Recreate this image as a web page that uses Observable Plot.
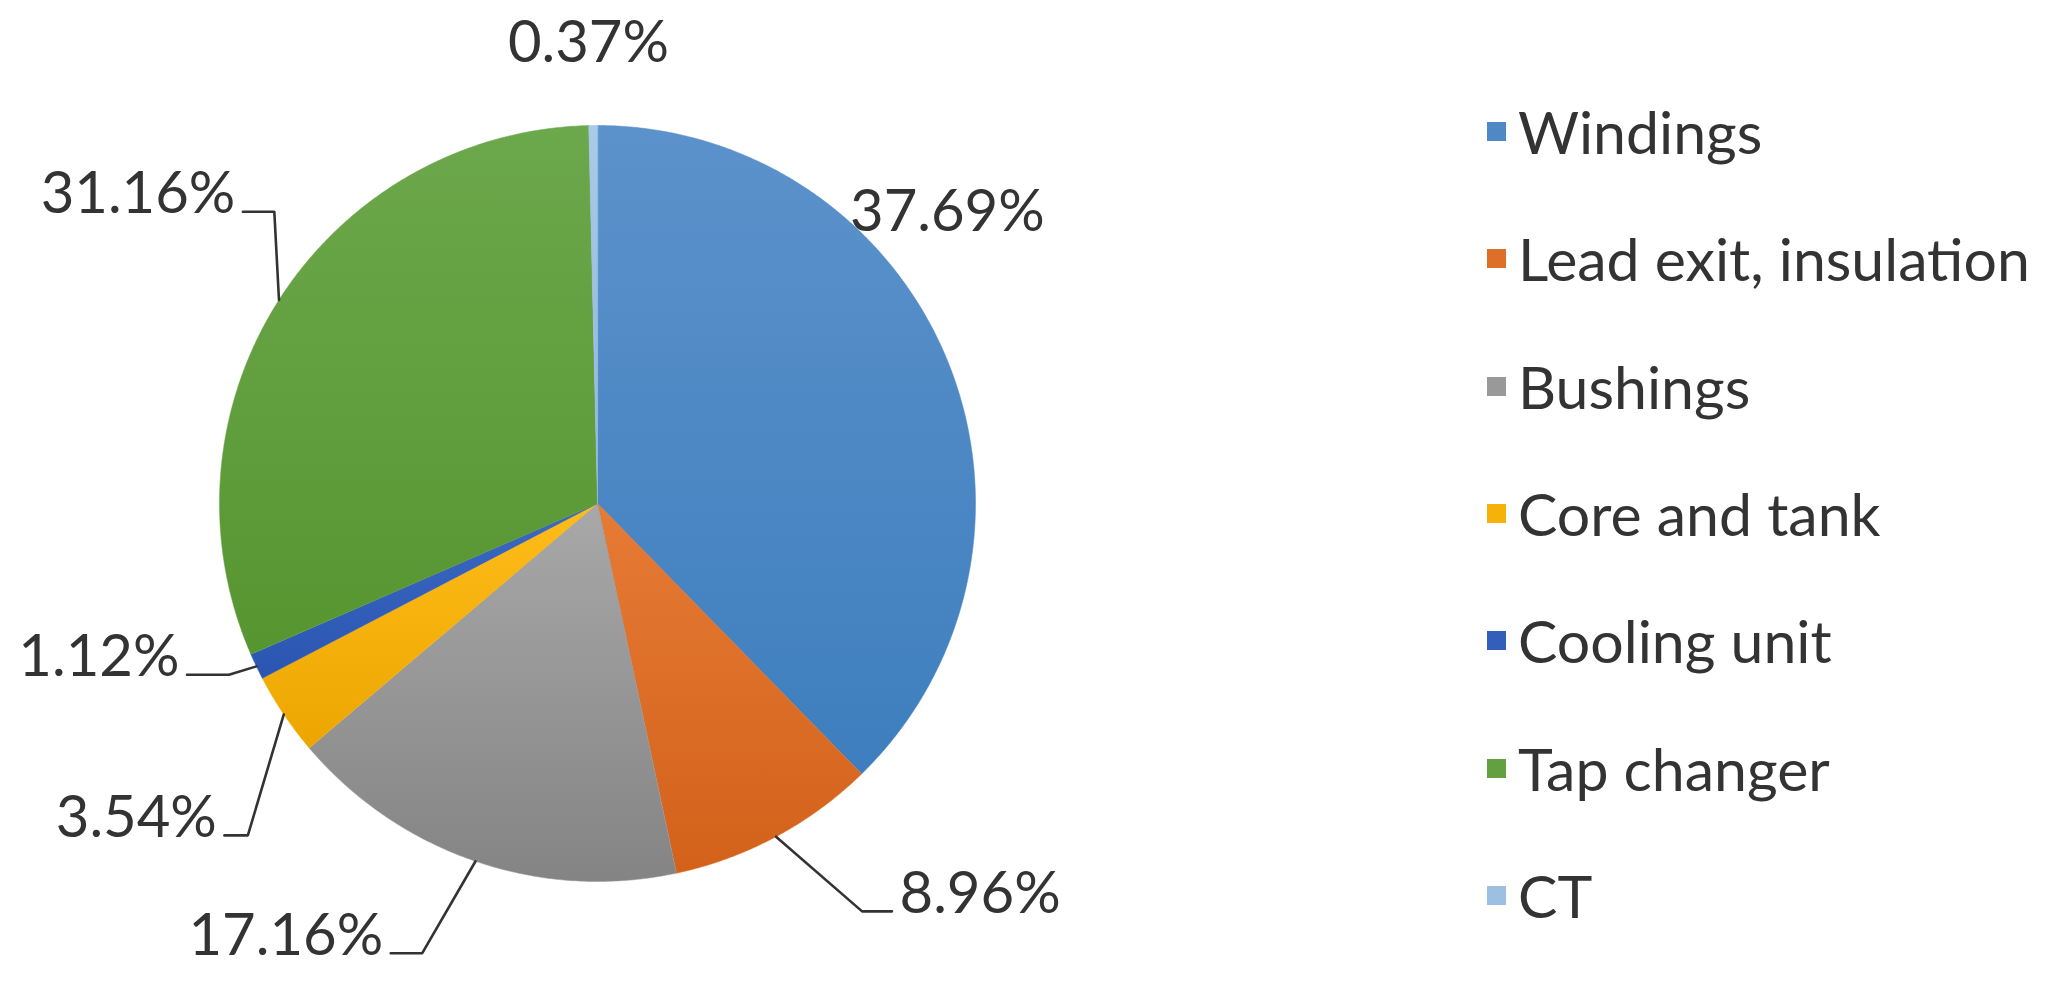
<!DOCTYPE html>
<html>
<head>
<meta charset="utf-8">
<script src="https://cdn.jsdelivr.net/npm/d3@7"></script>
<script src="https://cdn.jsdelivr.net/npm/@observablehq/plot@0.6"></script>
<style>
  html, body { margin: 0; padding: 0; background: #fff; }
  #wrap { position: relative; width: 2046px; height: 982px; font-family: Lato, "Open Sans", sans-serif; }
  #chart { position: absolute; left: 0; top: 0; }
  #legend { position: absolute; left: 1487px; top: 68px; }
  .item { display: flex; align-items: center; height: 127.3px; }
  .sw { width: 19px; height: 19px; margin-right: 12px; flex: none; }
  .lab { font-size: 59px; color: #333; line-height: 1; white-space: nowrap; }
</style>
</head>
<body>
<div id="wrap">
  <div id="chart"></div>
  <div id="legend"></div>
</div>
<script>
// ---- data ----
const categories = ["Windings", "Lead exit, insulation", "Bushings", "Core and tank", "Cooling unit", "Tap changer", "CT"];
const shares = [37.69, 8.96, 17.16, 3.54, 1.12, 31.16, 0.37];
const labels = ["37.69%", "8.96%", "17.16%", "3.54%", "1.12%", "31.16%", "0.37%"];

// ---- style ----
const colors = ["#4F88C4", "#DD6F28", "#999999", "#F7B20A", "#335FBA", "#63A040", "#9DC0E2"];
const colorsTop = ["#5C92CB", "#E67B35", "#A8A8A8", "#FFBC1A", "#3C69C2", "#6CA84C", "#AACBE8"];
const colorsBottom = ["#3E7EBE", "#D3611A", "#848484", "#EDA600", "#2A56B2", "#579530", "#8DB4DC"];

// ---- label layout (in pie-radius units, baseline position) ----
const labelX = [0.668, 0.799, -0.567, -1.007, -1.106, -0.958, -0.024];
const labelY = [-0.720, 1.083, 1.194, 0.882, 0.457, -0.768, -1.168];
const labelAnchor = ["start", "start", "end", "end", "end", "end", "middle"];
const elbowX = [null, 0.70, -0.464, -0.925, -0.975, -0.855, null];

const W = 1100, H = 982;

const arcs = d3.pie().sort(null).value(d => d)(shares);
const pt = a => [Math.sin(a), -Math.cos(a)];

const slices = arcs.map((a, i) => {
  const n = Math.max(2, Math.ceil((a.endAngle - a.startAngle) / (Math.PI / 360)));
  const ring = [[0, 0]];
  for (let k = 0; k <= n; ++k) ring.push(pt(a.startAngle + (a.endAngle - a.startAngle) * k / n));
  ring.push([0, 0]);
  return {type: "Feature", properties: {i}, geometry: {type: "Polygon", coordinates: [ring]}};
});

const labelRows = categories.map((c, i) => ({
  category: c, label: labels[i], x: labelX[i], y: labelY[i], anchor: labelAnchor[i]
}));

const gap = 0.02;
const leaders = arcs.map((a, i) => {
  if (elbowX[i] == null) return null;
  const mid = (a.startAngle + a.endAngle) / 2;
  const yl = labelY[i] - 0.004;
  const endX = labelAnchor[i] === "end" ? labelX[i] + gap : labelX[i] - gap;
  return {type: "Feature", properties: {i}, geometry: {type: "LineString", coordinates: [pt(mid), [elbowX[i], yl], [endX, yl]]}};
}).filter(d => d);

const textStyle = {fontSize: 58, fill: "#333", lineAnchor: "bottom", text: "label", x: "x", y: "y"};

const plot = Plot.plot({
  width: W,
  height: H,
  margin: 0,
  style: {fontFamily: "Lato, 'Open Sans', sans-serif", background: "white", overflow: "visible"},
  projection: {
    type: "identity",
    domain: {type: "MultiPoint", coordinates: [[-1, -1], [1, 1]]},
    insetLeft: 219, insetRight: W - 975, insetTop: 125, insetBottom: H - 881
  },
  marks: [
    ...slices.map((s, i) => Plot.geo([s], {fill: `url(#grad-${i})`, stroke: colors[i], strokeWidth: 0.5})),
    Plot.geo(leaders, {stroke: "#333", strokeWidth: 2.6, strokeLinejoin: "miter"}),
    Plot.text(labelRows, {...textStyle, filter: d => d.anchor === "start", textAnchor: "start"}),
    Plot.text(labelRows, {...textStyle, filter: d => d.anchor === "end", textAnchor: "end"}),
    Plot.text(labelRows, {...textStyle, filter: d => d.anchor === "middle", textAnchor: "middle"})
  ]
});

// gradients (lighter top -> darker bottom, Excel-style shading)
const defs = d3.select(plot).insert("defs", ":first-child");
colors.forEach((c, i) => {
  const g = defs.append("linearGradient").attr("id", `grad-${i}`).attr("x1", 0).attr("y1", 0).attr("x2", 0).attr("y2", 1);
  g.append("stop").attr("offset", "0%").attr("stop-color", colorsTop[i]);
  g.append("stop").attr("offset", "100%").attr("stop-color", colorsBottom[i]);
});

document.getElementById("chart").appendChild(plot);

// legend
const legend = d3.select("#legend");
categories.forEach((c, i) => {
  const item = legend.append("div").attr("class", "item");
  item.append("div").attr("class", "sw").style("background", colors[i]);
  item.append("div").attr("class", "lab").text(c);
});
</script>
</body>
</html>
